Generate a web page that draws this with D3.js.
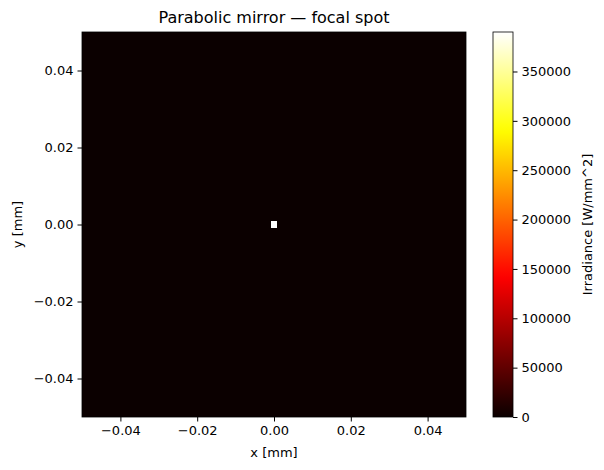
<!DOCTYPE html>
<html><head><meta charset="utf-8">
<script src="https://cdn.jsdelivr.net/npm/d3@7"></script>
<style>body{margin:0;background:#fff}text{font-family:"DejaVu Sans",sans-serif}</style>
</head><body><svg id="c" width="604" height="470"></svg>
<script>
const gridN = 55;
const extent = [-0.05, 0.05];
// nonzero cells: [col, row, irradiance]
const spotCells = [[27, 27, 390000]];
const xTicks = [-0.04, -0.02, 0.00, 0.02, 0.04];
const yTicks = [-0.04, -0.02, 0.00, 0.02, 0.04];
const cbTicks = [0, 50000, 100000, 150000, 200000, 250000, 300000, 350000];
const vmax = 390000;

function hot(t){
  t = Math.max(0, Math.min(1, t));
  const r = Math.min(1, 0.0416 + t/0.365079*(1-0.0416));
  const g = Math.max(0, Math.min(1, (t-0.365079)/(0.746032-0.365079)));
  const b = Math.max(0, Math.min(1, (t-0.746032)/(1-0.746032)));
  return d3.rgb(r*255, g*255, b*255).toString();
}

const svg = d3.select("#c");
const L=82,R=466,T=32,B=417;
const x = d3.scaleLinear().domain(extent).range([L,R]);
const y = d3.scaleLinear().domain(extent).range([B,T]);
const cell = (extent[1]-extent[0])/gridN;

const grid=[];
for(let i=0;i<gridN;i++)for(let j=0;j<gridN;j++)grid.push([i,j,0]);
spotCells.forEach(([i,j,v])=>{grid[i*gridN+j][2]=v;});
const g=svg.append("g");
g.selectAll("rect").data(grid).join("rect")
  .attr("x",d=>x(extent[0]+d[0]*cell))
  .attr("y",d=>y(extent[0]+(d[1]+1)*cell))
  .attr("width",x(extent[0]+cell)-x(extent[0])+0.4)
  .attr("height",y(extent[0])-y(extent[0]+cell)+0.4)
  .attr("fill",d=>hot(d[2]/vmax))
  .attr("shape-rendering","crispEdges");

const fmt=d3.format(".2f");
const ax=svg.append("g").attr("transform",`translate(0,${B})`)
  .call(d3.axisBottom(x).tickValues(xTicks).tickFormat(fmt).tickSize(4.5).tickPadding(4));
const ay=svg.append("g").attr("transform",`translate(${L},0)`)
  .call(d3.axisLeft(y).tickValues(yTicks).tickFormat(fmt).tickSize(4.5).tickPadding(4));
[ax,ay].forEach(a=>{a.selectAll("text").attr("font-size",13).attr("fill","#000");a.select(".domain").remove();a.selectAll("line").attr("stroke","#000");});
svg.append("rect").attr("x",L).attr("y",T).attr("width",R-L).attr("height",B-T).attr("fill","none").attr("stroke","#000").attr("stroke-width",0.8);

svg.append("text").attr("x",(L+R)/2).attr("y",23).attr("text-anchor","middle").attr("font-size",16).text("Parabolic mirror — focal spot");
svg.append("text").attr("x",(L+R)/2).attr("y",457).attr("text-anchor","middle").attr("font-size",13).text("x [mm]");
svg.append("text").attr("transform",`translate(22,${(T+B)/2}) rotate(-90)`).attr("text-anchor","middle").attr("font-size",13).text("y [mm]");

// colorbar
const cL=493,cR=513;
const cy=d3.scaleLinear().domain([0,vmax]).range([B,T]);
const defs=svg.append("defs");
const lg=defs.append("linearGradient").attr("id","cb").attr("x1",0).attr("y1",1).attr("x2",0).attr("y2",0);
d3.range(0,1.0001,0.02).forEach(t=>lg.append("stop").attr("offset",t).attr("stop-color",hot(t)));
svg.append("rect").attr("x",cL).attr("y",T).attr("width",cR-cL).attr("height",B-T).attr("fill","url(#cb)").attr("stroke","#000").attr("stroke-width",0.8);
const ac=svg.append("g").attr("transform",`translate(${cR},0)`)
  .call(d3.axisRight(cy).tickValues(cbTicks).tickFormat(d3.format("d")).tickSize(4.5).tickPadding(4));
ac.select(".domain").remove();ac.selectAll("text").attr("font-size",13).attr("fill","#000");
svg.append("text").attr("transform",`translate(592,${(T+B)/2}) rotate(-90)`).attr("text-anchor","middle").attr("font-size",13).text("Irradiance [W/mm^2]");
</script></body></html>
